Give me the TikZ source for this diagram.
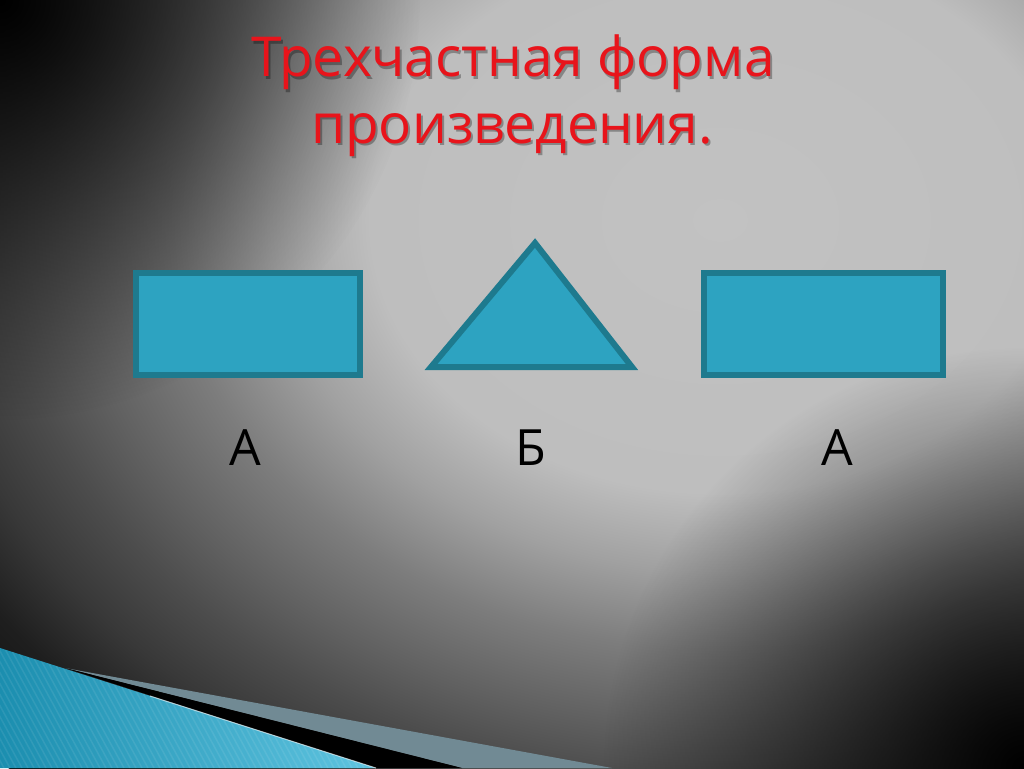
\documentclass[tikz,border=0pt]{standalone}
\usepackage{fontspec}
\setmainfont{Open Sans}
\usetikzlibrary{fadings}
\definecolor{boxfill}{HTML}{2DA3C1}
\definecolor{boxline}{HTML}{1E7A8E}
\definecolor{titlered}{HTML}{E8141B}
\definecolor{stripgray}{HTML}{718A94}
\definecolor{tealdark}{HTML}{1B8EAF}
\definecolor{teallight}{HTML}{5FC4E0}
\pgfdeclareradialshading{slidebg}{\pgfpoint{0bp}{0bp}}{%
	rgb(0bp)=(.76,.76,.76); rgb(8.75bp)=(.745,.745,.745);
	rgb(11.25bp)=(.63,.63,.63); rgb(13.75bp)=(.49,.49,.49);
	rgb(16.25bp)=(.38,.38,.38); rgb(18bp)=(.30,.30,.30);
	rgb(20bp)=(.22,.22,.22); rgb(22bp)=(.12,.12,.12);
	rgb(25bp)=(.05,.05,.05); rgb(50bp)=(.05,.05,.05)}
\tikzfading[name=cornerfade, inner color=transparent!0, outer color=transparent!100]

\begin{document}
\begin{tikzpicture}[x=1pt, y=-1pt,
	figure/.style={draw=boxline, fill=boxfill, line width=6pt, line join=miter},
	titletext/.style={font=\fontsize{55}{62}\selectfont, anchor=base},
	partname/.style={font=\fontsize{50}{56}\selectfont, anchor=base}]
	\useasboundingbox (0,0) rectangle (1024,768);
	\clip (0,0) rectangle (1024,768);
	%background
	\fill[black] (0,0) rectangle (1024,768);
	\shade[shading=slidebg] (720,220) ellipse [x radius=1000, y radius=780];
	\fill[black, path fading=cornerfade] (0,0) circle (420);
	\fill[black, path fading=cornerfade] (1024,768) circle (420);
	
	%corner bands
	\fill[stripgray] (65,668) -- (612,768) -- (462,768) -- cycle;
	\fill[black] (65,668) -- (462,768) -- (376,768) -- cycle;
	\begin{scope}
		\clip (0,648) -- (376,768) -- (0,768) -- cycle;
		\shade[left color=tealdark, right color=teallight] (0,640) rectangle (376,768);
		\foreach \x in {-120,-114,...,380}
		\draw[white, opacity=.08, line width=1.5pt] (\x,640) -- (\x+70,768);
	\end{scope}
	\draw[white, opacity=.6, line width=1pt] (150,696) -- (376,768);
	
	%title
	\node[titletext, text=black, opacity=.3] at (515,79) {Трехчастная форма};
	\node[titletext, text=titlered] (title1) at (513,77) {Трехчастная форма};
	\node[titletext, text=black, opacity=.3] at (514,145) {произведения.};
	\node[titletext, text=titlered] (title2) at (512,143) {произведения.};
	
	%parts
	\draw[figure] (136,273) rectangle (360,375);
	\draw[figure] (535,243) -- (632,367) -- (431,367) -- cycle;
	\draw[figure] (704,273) rectangle (943,375);
	
	\node[partname] (partA1) at (245,465) {А};
	\node[partname] (partB) at (531,465) {Б};
	\node[partname] (partA2) at (837,465) {А};
\end{tikzpicture}
\end{document}
